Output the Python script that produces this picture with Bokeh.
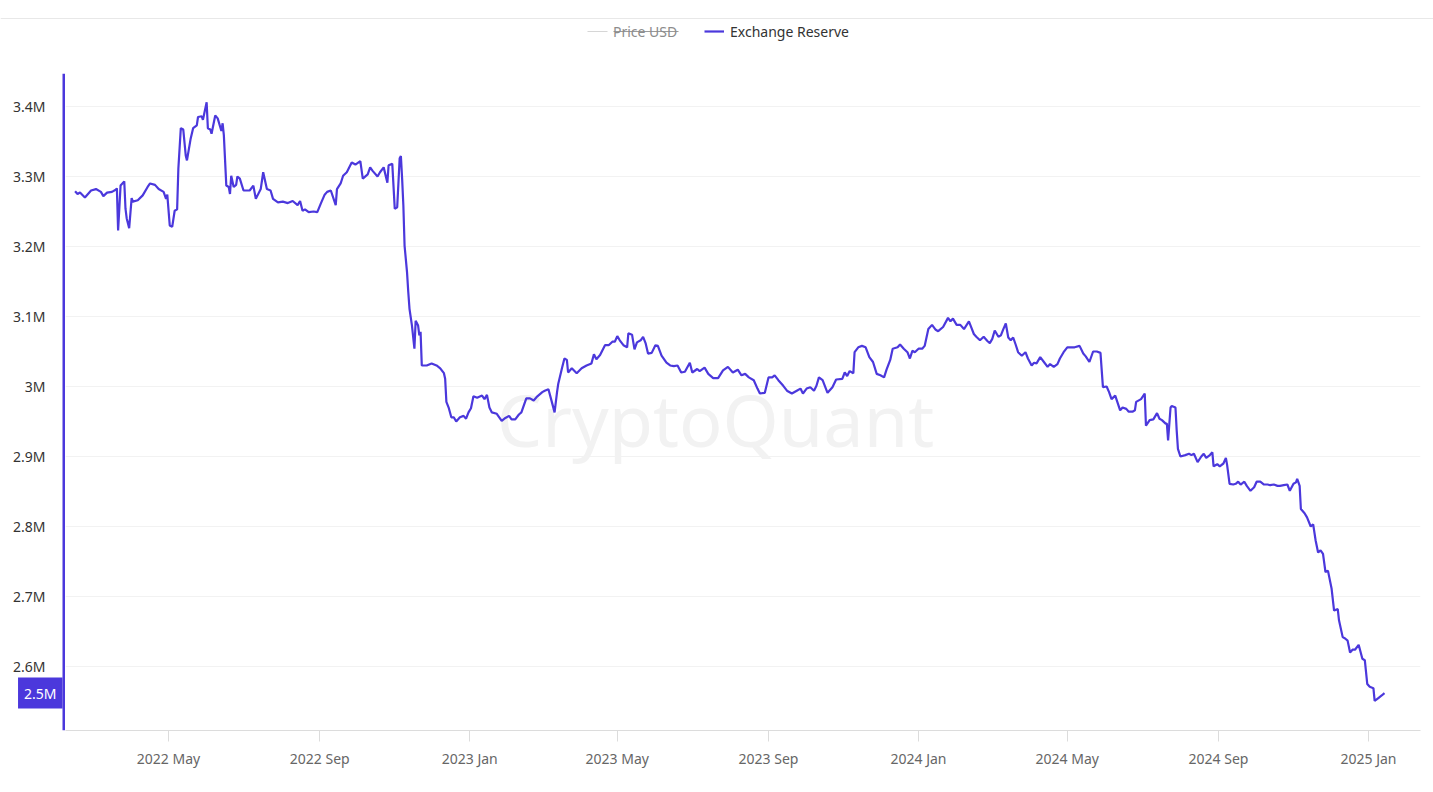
from datetime import datetime, timezone
from bokeh.plotting import figure
from bokeh.layouts import column, row
from bokeh.models import (ColumnDataSource, FixedTicker, Legend, LegendItem, Label,
                          Range1d, BoxAnnotation)
from bokeh.embed import file_html
from bokeh.resources import INLINE

# ---------------- data ----------------
dates = [
    "2022-02-14", "2022-02-16", "2022-02-18", "2022-02-22", "2022-02-27", "2022-03-03", "2022-03-07",
    "2022-03-09", "2022-03-12", "2022-03-16", "2022-03-19", "2022-03-20", "2022-03-21", "2022-03-23",
    "2022-03-26", "2022-03-27", "2022-03-28", "2022-03-30", "2022-04-01", "2022-04-02", "2022-04-06",
    "2022-04-10", "2022-04-14", "2022-04-16", "2022-04-20", "2022-04-23", "2022-04-27", "2022-04-29",
    "2022-04-30", "2022-05-02", "2022-05-04", "2022-05-06", "2022-05-08", "2022-05-09", "2022-05-11",
    "2022-05-13", "2022-05-15", "2022-05-16", "2022-05-19", "2022-05-21", "2022-05-24", "2022-05-25",
    "2022-05-28", "2022-05-29", "2022-06-01", "2022-06-02", "2022-06-04", "2022-06-05", "2022-06-08",
    "2022-06-10", "2022-06-13", "2022-06-14", "2022-06-15", "2022-06-17", "2022-06-19", "2022-06-20",
    "2022-06-21", "2022-06-23", "2022-06-25", "2022-06-26", "2022-06-28", "2022-07-01", "2022-07-06",
    "2022-07-09", "2022-07-11", "2022-07-15", "2022-07-17", "2022-07-20", "2022-07-23", "2022-07-25",
    "2022-07-29", "2022-08-02", "2022-08-06", "2022-08-10", "2022-08-14", "2022-08-16", "2022-08-18",
    "2022-08-20", "2022-08-23", "2022-08-27", "2022-08-30", "2022-09-02", "2022-09-05", "2022-09-07",
    "2022-09-10", "2022-09-14", "2022-09-15", "2022-09-18", "2022-09-20", "2022-09-23", "2022-09-27",
    "2022-09-30", "2022-10-04", "2022-10-06", "2022-10-10", "2022-10-12", "2022-10-14", "2022-10-18",
    "2022-10-20", "2022-10-23", "2022-10-26", "2022-10-27", "2022-10-30", "2022-11-01", "2022-11-03",
    "2022-11-05", "2022-11-06", "2022-11-07", "2022-11-08", "2022-11-09", "2022-11-11", "2022-11-12",
    "2022-11-13", "2022-11-15", "2022-11-17", "2022-11-18", "2022-11-20", "2022-11-21", "2022-11-22",
    "2022-11-23", "2022-11-27", "2022-12-01", "2022-12-05", "2022-12-08", "2022-12-11", "2022-12-12",
    "2022-12-13", "2022-12-15", "2022-12-17", "2022-12-19", "2022-12-21", "2022-12-24", "2022-12-27",
    "2022-12-29", "2022-12-31", "2023-01-02", "2023-01-04", "2023-01-07", "2023-01-11", "2023-01-13",
    "2023-01-15", "2023-01-17", "2023-01-19", "2023-01-23", "2023-01-27", "2023-01-30", "2023-02-02",
    "2023-02-04", "2023-02-07", "2023-02-10", "2023-02-12", "2023-02-16", "2023-02-19", "2023-02-22",
    "2023-02-25", "2023-03-01", "2023-03-03", "2023-03-06", "2023-03-08", "2023-03-11", "2023-03-13",
    "2023-03-14", "2023-03-17", "2023-03-19", "2023-03-21", "2023-03-22", "2023-03-25", "2023-03-29",
    "2023-04-02", "2023-04-06", "2023-04-10", "2023-04-12", "2023-04-14", "2023-04-17", "2023-04-21",
    "2023-04-24", "2023-04-27", "2023-04-29", "2023-05-01", "2023-05-03", "2023-05-06", "2023-05-09",
    "2023-05-10", "2023-05-13", "2023-05-15", "2023-05-17", "2023-05-20", "2023-05-22", "2023-05-24",
    "2023-05-26", "2023-05-29", "2023-06-01", "2023-06-03", "2023-06-06", "2023-06-08", "2023-06-10",
    "2023-06-13", "2023-06-16", "2023-06-19", "2023-06-22", "2023-06-25", "2023-06-29", "2023-07-01",
    "2023-07-05", "2023-07-07", "2023-07-11", "2023-07-14", "2023-07-18", "2023-07-22", "2023-07-26",
    "2023-07-30", "2023-08-03", "2023-08-07", "2023-08-10", "2023-08-13", "2023-08-16", "2023-08-20",
    "2023-08-23", "2023-08-25", "2023-08-29", "2023-09-01", "2023-09-04", "2023-09-06", "2023-09-09",
    "2023-09-13", "2023-09-16", "2023-09-20", "2023-09-24", "2023-09-27", "2023-09-29", "2023-10-02",
    "2023-10-05", "2023-10-08", "2023-10-10", "2023-10-12", "2023-10-15", "2023-10-19", "2023-10-23",
    "2023-10-26", "2023-10-31", "2023-11-02", "2023-11-04", "2023-11-06", "2023-11-09", "2023-11-10",
    "2023-11-13", "2023-11-16", "2023-11-19", "2023-11-22", "2023-11-25", "2023-11-28", "2023-12-01",
    "2023-12-04", "2023-12-06", "2023-12-09", "2023-12-11", "2023-12-15", "2023-12-17", "2023-12-20",
    "2023-12-23", "2023-12-25", "2023-12-27", "2023-12-29", "2024-01-01", "2024-01-04", "2024-01-06",
    "2024-01-09", "2024-01-12", "2024-01-15", "2024-01-17", "2024-01-21", "2024-01-25", "2024-01-27",
    "2024-01-29", "2024-02-01", "2024-02-04", "2024-02-07", "2024-02-11", "2024-02-13", "2024-02-15",
    "2024-02-17", "2024-02-20", "2024-02-23", "2024-02-26", "2024-02-28", "2024-03-01", "2024-03-03",
    "2024-03-06", "2024-03-08", "2024-03-10", "2024-03-12", "2024-03-14", "2024-03-16", "2024-03-18",
    "2024-03-20", "2024-03-22", "2024-03-25", "2024-03-28", "2024-03-30", "2024-04-02", "2024-04-04",
    "2024-04-06", "2024-04-09", "2024-04-12", "2024-04-15", "2024-04-17", "2024-04-20", "2024-04-23",
    "2024-04-25", "2024-04-28", "2024-05-01", "2024-05-03", "2024-05-07", "2024-05-11", "2024-05-14",
    "2024-05-16", "2024-05-19", "2024-05-22", "2024-05-25", "2024-05-28", "2024-05-30", "2024-06-02",
    "2024-06-04", "2024-06-06", "2024-06-09", "2024-06-13", "2024-06-15", "2024-06-18", "2024-06-20",
    "2024-06-23", "2024-06-25", "2024-06-26", "2024-06-30", "2024-07-03", "2024-07-04", "2024-07-07",
    "2024-07-10", "2024-07-13", "2024-07-15", "2024-07-17", "2024-07-20", "2024-07-21", "2024-07-22",
    "2024-07-24", "2024-07-25", "2024-07-28", "2024-07-29", "2024-07-30", "2024-08-01", "2024-08-05",
    "2024-08-08", "2024-08-10", "2024-08-12", "2024-08-15", "2024-08-18", "2024-08-20", "2024-08-22",
    "2024-08-25", "2024-08-27", "2024-08-28", "2024-08-31", "2024-09-02", "2024-09-05", "2024-09-07",
    "2024-09-08", "2024-09-10", "2024-09-13", "2024-09-15", "2024-09-17", "2024-09-19", "2024-09-22",
    "2024-09-24", "2024-09-27", "2024-09-30", "2024-10-02", "2024-10-05", "2024-10-08", "2024-10-11",
    "2024-10-13", "2024-10-16", "2024-10-19", "2024-10-21", "2024-10-24", "2024-10-27", "2024-10-29",
    "2024-11-01", "2024-11-03", "2024-11-04", "2024-11-06", "2024-11-07", "2024-11-10", "2024-11-12",
    "2024-11-15", "2024-11-17", "2024-11-19", "2024-11-21", "2024-11-23", "2024-11-25", "2024-11-27",
    "2024-11-29", "2024-12-02", "2024-12-04", "2024-12-07", "2024-12-08", "2024-12-11", "2024-12-13",
    "2024-12-15", "2024-12-17", "2024-12-19", "2024-12-21", "2024-12-24", "2024-12-27", "2024-12-29",
    "2024-12-31", "2025-01-02", "2025-01-05", "2025-01-06", "2025-01-09", "2025-01-12", "2025-01-14",
]

# Exchange reserve, in millions
reserve_millions = [
    3.279, 3.275, 3.277, 3.270, 3.280, 3.282, 3.278,
    3.272, 3.277, 3.278, 3.281, 3.283, 3.223, 3.287,
    3.293, 3.254, 3.240, 3.226, 3.269, 3.264, 3.266,
    3.273, 3.285, 3.290, 3.288, 3.282, 3.278, 3.268,
    3.274, 3.230, 3.228, 3.251, 3.253, 3.311, 3.369,
    3.367, 3.330, 3.323, 3.354, 3.369, 3.373, 3.385,
    3.386, 3.381, 3.406, 3.369, 3.367, 3.361, 3.387,
    3.383, 3.365, 3.376, 3.359, 3.287, 3.285, 3.275,
    3.301, 3.285, 3.288, 3.300, 3.297, 3.280, 3.280,
    3.287, 3.268, 3.282, 3.306, 3.282, 3.280, 3.268,
    3.263, 3.264, 3.262, 3.265, 3.259, 3.265, 3.251,
    3.253, 3.249, 3.250, 3.249, 3.262, 3.274, 3.278,
    3.280, 3.259, 3.282, 3.290, 3.301, 3.306, 3.320,
    3.317, 3.322, 3.297, 3.303, 3.313, 3.308, 3.300,
    3.306, 3.313, 3.291, 3.316, 3.318, 3.254, 3.256,
    3.326, 3.329, 3.297, 3.259, 3.201, 3.163, 3.135,
    3.111, 3.087, 3.054, 3.094, 3.087, 3.073, 3.078,
    3.030, 3.030, 3.033, 3.030, 3.026, 3.019, 3.011,
    2.978, 2.969, 2.956, 2.956, 2.950, 2.956, 2.958,
    2.954, 2.963, 2.969, 2.986, 2.984, 2.987, 2.982,
    2.988, 2.970, 2.963, 2.961, 2.951, 2.955, 2.958,
    2.953, 2.953, 2.960, 2.963, 2.983, 2.983, 2.980,
    2.986, 2.992, 2.994, 2.996, 2.983, 2.963, 2.992,
    3.004, 3.026, 3.040, 3.038, 3.020, 3.026, 3.019,
    3.026, 3.030, 3.033, 3.046, 3.039, 3.045, 3.059,
    3.059, 3.064, 3.064, 3.072, 3.066, 3.059, 3.056,
    3.076, 3.074, 3.053, 3.063, 3.066, 3.071, 3.062,
    3.047, 3.048, 3.059, 3.058, 3.044, 3.039, 3.034,
    3.030, 3.029, 3.030, 3.020, 3.021, 3.034, 3.020,
    3.025, 3.022, 3.027, 3.018, 3.012, 3.012, 3.023,
    3.028, 3.020, 3.024, 3.016, 3.018, 3.013, 3.009,
    2.997, 2.990, 2.991, 3.013, 3.013, 3.016, 3.009,
    3.001, 2.994, 2.990, 2.994, 2.997, 2.990, 2.997,
    2.999, 2.994, 3.001, 3.013, 3.009, 2.991, 2.999,
    3.010, 3.011, 3.020, 3.015, 3.022, 3.019, 3.049,
    3.056, 3.058, 3.056, 3.042, 3.035, 3.018, 3.016,
    3.013, 3.024, 3.038, 3.054, 3.056, 3.060, 3.054,
    3.049, 3.040, 3.051, 3.049, 3.054, 3.054, 3.058,
    3.082, 3.088, 3.081, 3.079, 3.085, 3.098, 3.093,
    3.097, 3.088, 3.088, 3.082, 3.093, 3.084, 3.075,
    3.071, 3.066, 3.071, 3.065, 3.062, 3.068, 3.080,
    3.071, 3.073, 3.082, 3.090, 3.070, 3.066, 3.070,
    3.060, 3.049, 3.044, 3.049, 3.040, 3.030, 3.034,
    3.033, 3.042, 3.035, 3.028, 3.032, 3.028, 3.032,
    3.040, 3.049, 3.056, 3.056, 3.056, 3.058, 3.047,
    3.043, 3.035, 3.050, 3.050, 3.048, 2.999, 3.000,
    2.992, 2.982, 2.987, 2.966, 2.970, 2.968, 2.964,
    2.964, 2.966, 2.978, 2.982, 2.990, 2.944, 2.952,
    2.953, 2.962, 2.954, 2.952, 2.947, 2.947, 2.923,
    2.970, 2.972, 2.970, 2.937, 2.911, 2.900, 2.902,
    2.904, 2.902, 2.904, 2.892, 2.900, 2.904, 2.898,
    2.902, 2.906, 2.886, 2.889, 2.886, 2.890, 2.898,
    2.888, 2.861, 2.860, 2.861, 2.864, 2.860, 2.864,
    2.858, 2.851, 2.856, 2.864, 2.864, 2.860, 2.860,
    2.859, 2.860, 2.858, 2.858, 2.859, 2.860, 2.851,
    2.861, 2.863, 2.868, 2.858, 2.825, 2.819, 2.813,
    2.800, 2.803, 2.780, 2.763, 2.766, 2.761, 2.735,
    2.737, 2.711, 2.680, 2.682, 2.666, 2.642, 2.640,
    2.637, 2.620, 2.624, 2.624, 2.631, 2.611, 2.609,
    2.575, 2.571, 2.569, 2.551, 2.555, 2.559, 2.562,
]

# Price USD series is toggled off in the reference (legend only)
price_dates = []
price_usd = []

y_ticks_millions = [2.6, 2.7, 2.8, 2.9, 3.0, 3.1, 3.2, 3.3, 3.4]
y_tick_labels = ["2.6M", "2.7M", "2.8M", "2.9M", "3M", "3.1M", "3.2M", "3.3M", "3.4M"]
x_tick_dates = ["2022-05-01", "2022-09-01", "2023-01-01", "2023-05-01", "2023-09-01",
                "2024-01-01", "2024-05-01", "2024-09-01", "2025-01-01"]
x_tick_labels = ["2022 May", "2022 Sep", "2023 Jan", "2023 May", "2023 Sep",
                 "2024 Jan", "2024 May", "2024 Sep", "2025 Jan"]
current_value_tag = "2.5M"

# ---------------- styling ----------------
PURPLE = "#4b38dc"
FONT = "Noto Sans"
W, H = 1433, 792
TOP_H = 73
LEFT_W = 65
FOOT_H = 5
BOTTOM = 57

def to_dt(s):
    return datetime.strptime(s, "%Y-%m-%d")

def blank(fig):
    fig.outline_line_color = None
    fig.grid.grid_line_color = None
    fig.background_fill_color = "white"
    fig.border_fill_color = "white"

def screen_box(fig, left, right, bottom=None, top=None, color="#000000"):
    kw = dict(left=left, right=right, left_units="screen", right_units="screen",
              fill_color=color, fill_alpha=1, line_color=None)
    if bottom is not None:
        kw.update(bottom=bottom, top=top, bottom_units="screen", top_units="screen")
    fig.add_layout(BoxAnnotation(**kw))

src = ColumnDataSource(dict(date=[to_dt(d) for d in dates], reserve=reserve_millions))
price_src = ColumnDataSource(dict(date=[to_dt(d) for d in price_dates], price=price_usd))

y_range = Range1d(2.5086, 3.4471)
MID_H = H - TOP_H - FOOT_H

# ---------- main chart ----------
p = figure(width=W - LEFT_W, height=MID_H, x_axis_type="datetime",
           output_backend="svg", toolbar_location=None, y_axis_location=None,
           x_range=Range1d(datetime(2022, 2, 6, 5), datetime(2025, 2, 12, 7)),
           y_range=y_range,
           min_border_left=0, min_border_right=13, min_border_top=0, min_border_bottom=BOTTOM)
p.outline_line_color = None
p.background_fill_color = "white"
p.border_fill_color = "white"

p.line("date", "reserve", source=src, line_color=PURPLE, line_width=2.2)

xa = p.xaxis[0]
tick_ms = [to_dt(d).replace(tzinfo=timezone.utc).timestamp() * 1000 for d in x_tick_dates]
xa.ticker = FixedTicker(ticks=tick_ms)
xa.major_label_overrides = {t: lab for t, lab in zip(tick_ms, x_tick_labels)}
xa.axis_line_color = "#dcdcdc"
xa.major_tick_line_color = "#dcdcdc"
xa.major_tick_in = 0
xa.major_tick_out = 11
xa.minor_tick_line_color = None
xa.major_label_standoff = 7
xa.major_label_text_font = FONT
xa.major_label_text_font_size = "14px"
xa.major_label_text_color = "#666666"

p.xgrid.grid_line_color = None
p.ygrid.ticker = FixedTicker(ticks=y_ticks_millions)
p.ygrid.grid_line_color = "#f2f2f2"
p.ygrid.grid_line_width = 1

p.add_layout(Label(x=650, y=312, x_units="screen", y_units="screen", text="CryptoQuant",
                   text_font=FONT, text_font_size="72px", text_color="#f2f2f2",
                   text_align="center", text_baseline="middle", level="underlay"))

# ---------- left strip: y tick labels, axis line, current-value tag ----------
lf = figure(width=LEFT_W, height=MID_H, output_backend="svg", toolbar_location=None,
            x_axis_location=None, y_axis_location=None,
            x_range=Range1d(0, 1), y_range=y_range,
            min_border_left=0, min_border_right=0, min_border_top=0, min_border_bottom=BOTTOM)
blank(lf)

for t, lab in zip(y_ticks_millions, y_tick_labels):
    lf.add_layout(Label(x=45, y=t, x_units="screen", y_units="data", text=lab,
                        text_font=FONT, text_font_size="14px", text_color="#333333",
                        text_align="right", text_baseline="middle"))

screen_box(lf, 62, 64.5, color=PURPLE)

lf.add_layout(Label(x=62, y=reserve_millions[-1], x_units="screen", y_units="data",
                    text=current_value_tag, text_font=FONT, text_font_size="14px",
                    text_color="white", text_align="right", text_baseline="middle",
                    background_fill_color=PURPLE, background_fill_alpha=1, padding=6))

# ---------- top strip: legend ----------
tf = figure(width=W, height=TOP_H, output_backend="svg", toolbar_location=None,
            x_axis_location=None, y_axis_location=None,
            x_range=Range1d(0, 1), y_range=Range1d(0, 1),
            min_border_left=0, min_border_right=0, min_border_top=0, min_border_bottom=0)
blank(tf)

price_r = tf.line("date", "price", source=price_src, line_color="#d9d9d9", line_width=1.2)
res_r = tf.line("date", "reserve", source=src, line_color=PURPLE, line_width=2.2)

legend_style = dict(orientation="horizontal", border_line_color=None, background_fill_alpha=0,
                    padding=0, margin=0, spacing=0, glyph_width=20, glyph_height=20,
                    label_height=20, label_standoff=6,
                    label_text_font=FONT, label_text_font_size="14px")

# disabled series entry (greyed)
tf.add_layout(Legend(items=[LegendItem(label="Price USD", renderers=[price_r])],
                     location=(587, 32), label_text_color="#8c8c8c", **legend_style))
# active series entry
tf.add_layout(Legend(items=[LegendItem(label="Exchange Reserve", renderers=[res_r])],
                     location=(704, 32), label_text_color="#333333", **legend_style))

# swatch line and strike-through of the disabled entry, and the thin top rule
screen_box(tf, 587, 607, 41.5, 42.5, color="#d6d6d6")
screen_box(tf, 613, 678, 41.5, 42.5, color="#9a9a9a")
screen_box(tf, 0, W, 54.5, 55.5, color="#e8e8e8")

# ---------- foot strip (navigator band) ----------
ff = figure(width=W, height=FOOT_H, output_backend="svg", toolbar_location=None,
            x_axis_location=None, y_axis_location=None,
            x_range=Range1d(0, 1), y_range=Range1d(0, 1),
            min_border_left=0, min_border_right=0, min_border_top=0, min_border_bottom=0)
blank(ff)
screen_box(ff, 73, 1420, color="#f1f1f3")

layout = column(tf, row(lf, p), ff)
open("out.html", "w").write(file_html(layout, INLINE))
